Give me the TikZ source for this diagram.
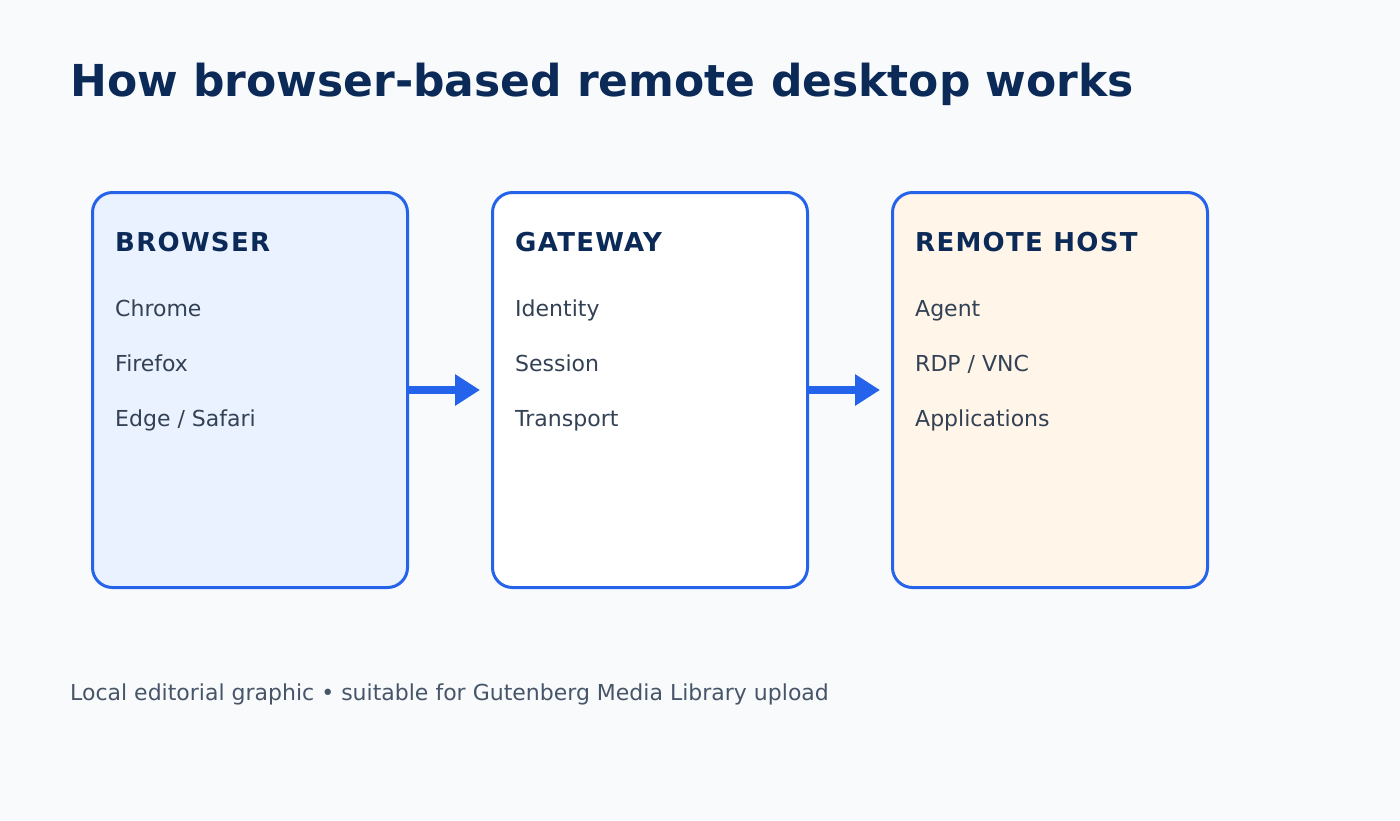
\documentclass[tikz,border=0pt]{standalone}
\usepackage{fontspec}
\setmainfont{DejaVu Sans}
\usetikzlibrary{calc,arrows.meta}
\definecolor{fondo}{HTML}{F8FAFC}
\definecolor{borde}{HTML}{2563EB}
\definecolor{marino}{HTML}{0B2A57}
\definecolor{pizarra}{HTML}{334155}
\definecolor{gris}{HTML}{475569}
\definecolor{azulclaro}{HTML}{EAF2FF}
\definecolor{crema}{HTML}{FFF5E9}
\begin{document}
\begin{tikzpicture}[x=1pt,y=-1pt,
  caja/.style={draw=borde, line width=3pt, rounded corners=20pt,
    minimum width=315pt, minimum height=395pt, inner sep=0pt},
  cabecera/.style={anchor=base west, inner sep=0pt, text=marino,
    font=\fontsize{26}{30}\selectfont\bfseries\addfontfeature{LetterSpace=5}},
  elemento/.style={anchor=base west, inner sep=0pt, text=pizarra,
    font=\fontsize{22}{26}\selectfont},
  flecha/.style={draw=borde, line width=8pt,
    -{Triangle[length=25pt,width=30pt]}, shorten >=11pt}]
% Fondo
\fill[fondo] (0,0) rectangle (1400,820);
% Titulo
\node[anchor=base west, inner sep=0pt, text=marino,
  font=\fontsize{44}{50}\selectfont\bfseries] (titulo) at (70,96)
  {How browser-based remote desktop works};
% Cajas
\node[caja, fill=azulclaro] (browser) at (250,390) {};
\node[caja, fill=white] (gateway) at (650,390) {};
\node[caja, fill=crema] (remotehost) at (1050,390) {};
% Cabeceras
\node[cabecera] (hbrowser) at (115,251) {BROWSER};
\node[cabecera] (hgateway) at (515,251) {GATEWAY};
\node[cabecera] (hremote) at (915,251) {REMOTE HOST};
% Elementos de cada caja
\node[elemento] (chrome) at (115,316) {Chrome};
\node[elemento] (firefox) at (115,371) {Firefox};
\node[elemento] (edge) at (115,426) {Edge / Safari};
\node[elemento] (identity) at (515,316) {Identity};
\node[elemento] (session) at (515,371) {Session};
\node[elemento] (transport) at (515,426) {Transport};
\node[elemento] (agent) at (915,316) {Agent};
\node[elemento] (rdp) at (915,371) {RDP / VNC};
\node[elemento] (apps) at (915,426) {Applications};
% Flechas
\draw[flecha] (browser.east) -- (gateway.west);
\draw[flecha] (gateway.east) -- (remotehost.west);
% Pie
\node[anchor=base west, inner sep=0pt, text=gris,
  font=\fontsize{22}{26}\selectfont] (pie) at (70,700)
  {Local editorial graphic • suitable for Gutenberg Media Library upload};
\end{tikzpicture}
\end{document}
